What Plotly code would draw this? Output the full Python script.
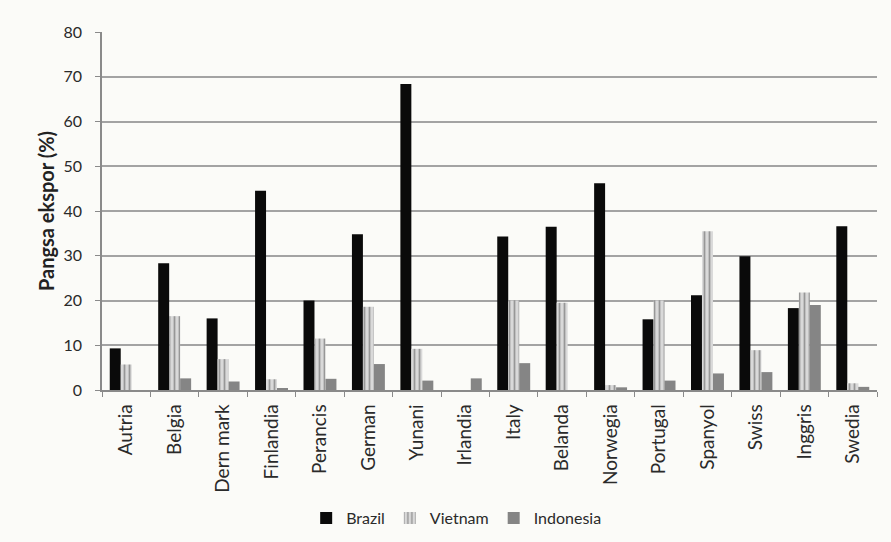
import plotly.graph_objects as go

categories = ["Autria", "Belgia", "Dern mark", "Finlandia", "Perancis", "German", "Yunani",
              "Irlandia", "Italy", "Belanda", "Norwegia", "Portugal", "Spanyol", "Swiss",
              "Inggris", "Swedia"]
brazil = [9.3, 28.3, 16.0, 44.5, 20.0, 34.8, 68.4, 0.0, 34.3, 36.5, 46.2, 15.8, 21.2, 29.9, 18.3, 36.6]
vietnam = [5.7, 16.5, 6.9, 2.4, 11.5, 18.6, 9.2, 0.0, 20.0, 19.5, 1.1, 20.0, 35.5, 8.9, 21.8, 1.5]
indonesia = [0.0, 2.6, 1.9, 0.3, 2.5, 5.8, 2.1, 2.6, 6.0, 0.0, 0.6, 2.1, 3.7, 4.0, 19.0, 0.7]
y_ticks = [0, 10, 20, 30, 40, 50, 60, 70, 80]

FONT = "Lato, Carlito, Liberation Sans, sans-serif"

fig = go.Figure()
fig.add_trace(go.Bar(x=categories, y=brazil, name="Brazil",
                     marker=dict(color="#0a0a0a", line=dict(width=0))))
fig.add_trace(go.Bar(x=categories, y=vietnam, name="Vietnam",
                     marker=dict(color="#d4d4d4", line=dict(width=0),
                                 pattern=dict(shape="|", fgcolor="#555555", bgcolor="#d9d9d9",
                                              size=5, solidity=0.35))))
fig.add_trace(go.Bar(x=categories, y=indonesia, name="Indonesia",
                     marker=dict(color="#858585", line=dict(width=0))))

fig.update_layout(
    width=891, height=542,
    barmode="group", bargap=0.32, bargroupgap=0,
    paper_bgcolor="#fbfbf8", plot_bgcolor="#fbfbf8",
    margin=dict(l=102, r=14, t=32, b=152, autoexpand=False),
    font=dict(family=FONT, color="#2a2a2a", size=16),
    showlegend=True,
    legend=dict(orientation="h", x=0.457, xanchor="center",
                yref="container", y=0.044, yanchor="middle",
                font=dict(size=16, color="#2a2a2a", family=FONT), itemwidth=30,
                traceorder="normal", bgcolor="rgba(0,0,0,0)"),
    xaxis=dict(tickangle=-90, showline=True, linecolor="#8a8a8a", linewidth=1.5,
               ticks="outside", tickson="boundaries", ticklen=5, tickcolor="#8a8a8a",
               tickfont=dict(size=19, color="#2a2a2a", family=FONT), showgrid=False,
               ticklabelstandoff=5, automargin=False),
    yaxis=dict(range=[0, 80], tickvals=y_ticks, showline=True, linecolor="#8a8a8a",
               linewidth=1.5, ticks="outside", ticklen=5, tickcolor="#8a8a8a",
               gridcolor="#a3a3a3", gridwidth=1.6, zeroline=False,
               tickfont=dict(size=16, color="#2a2a2a", family=FONT),
               ticklabelstandoff=10, automargin=False,
               title=dict(text="<b>Pangsa ekspor (%)</b>", font=dict(size=20, color="#222", family=FONT),
                          standoff=3)),
)

fig.write_html("out.html")
